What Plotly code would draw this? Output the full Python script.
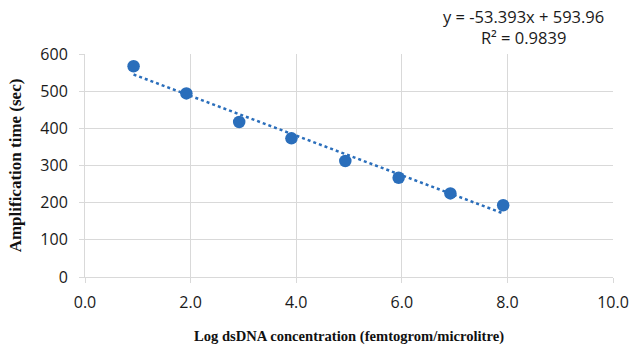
import numpy as np
import plotly.graph_objects as go

# Data
log_conc = [0.92, 1.92, 2.92, 3.91, 4.93, 5.94, 6.92, 7.92]
amp_time = [567, 494, 417, 373, 312, 267, 225, 193]

# Linear trendline shown on the chart
slope = -53.393
intercept = 593.96
r_squared = 0.9839

x_ticks = [0, 2, 4, 6, 8, 10]
x_ticktext = ["0.0", "2.0", "4.0", "6.0", "8.0", "10.0"]
y_ticks = [0, 100, 200, 300, 400, 500, 600]

blue = "#2A6EBB"
grid = "#D9D9D9"

trend_x = np.array([min(log_conc), max(log_conc)])
trend_y = slope * trend_x + intercept

fig = go.Figure()
fig.add_trace(go.Scatter(
    x=trend_x, y=trend_y, mode="lines",
    line=dict(color=blue, width=2.5, dash="dot"),
    hoverinfo="skip", showlegend=False,
))
fig.add_trace(go.Scatter(
    x=log_conc, y=amp_time, mode="markers",
    marker=dict(color=blue, size=12.5),
    showlegend=False,
))

tick_font = dict(family="Open Sans, sans-serif", size=16, color="#1a1a1a")

L, R, T, B = 85, 20, 54, 77
W, H = 633, 354
pw, ph = W - L - R, H - T - B

fig.update_layout(
    width=W, height=H,
    margin=dict(l=L, r=R, t=T, b=B),
    paper_bgcolor="white", plot_bgcolor="white",
    xaxis=dict(
        range=[0, 10], tickvals=x_ticks, ticktext=x_ticktext,
        showgrid=True, gridcolor=grid, gridwidth=1,
        showline=True, linecolor=grid, linewidth=1,
        ticks="outside", ticklen=5, tickcolor=grid,
        tickfont=tick_font, ticklabelstandoff=6,
        zeroline=False, automargin=False,
        title=dict(text="<b>Log dsDNA concentration (femtogrom/microlitre)</b>",
                   font=dict(family="Liberation Serif, serif", size=14.6, color="#111111"),
                   standoff=18),
    ),
    yaxis=dict(
        range=[0, 600], tickvals=y_ticks,
        showgrid=True, gridcolor=grid, gridwidth=1,
        showline=True, linecolor=grid, linewidth=1,
        ticks="outside", ticklen=5, tickcolor=grid,
        tickfont=tick_font, ticklabelstandoff=8,
        zeroline=False, automargin=False,
        title=dict(text="<b>Amplification time (sec)</b>",
                   font=dict(family="Liberation Serif, serif", size=17, color="#111111"),
                   standoff=14),
    ),
)

# Regression equation label above the top-right of the plot
fig.add_annotation(
    x=(523 - L) / pw, y=1 + (T - 27.5) / ph,
    xref="paper", yref="paper", xanchor="center", yanchor="middle",
    text=f"y = {slope}x + {intercept:.2f}<br>R² = {r_squared}",
    showarrow=False, align="center",
    font=dict(family="Open Sans, sans-serif", size=16.5, color="#1a1a1a"),
)

fig.write_html("out.html", config={"displayModeBar": False},
               post_script="document.body.style.margin='0';")
